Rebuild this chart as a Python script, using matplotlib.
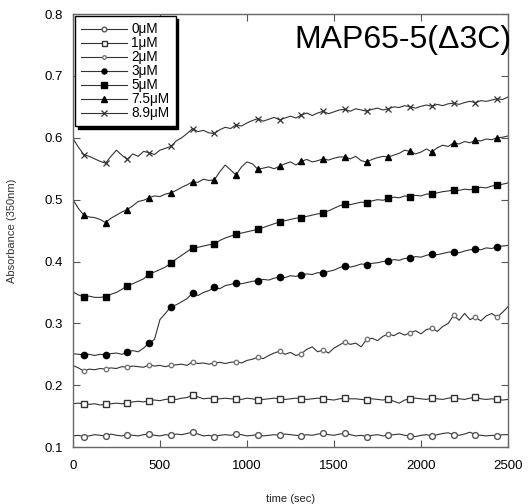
import matplotlib
matplotlib.use("Agg")
import matplotlib.pyplot as plt
import numpy as np

plt.rcParams['font.family'] = ['Liberation Sans', 'DejaVu Sans']

# time axis, one reading every 31.25 s
time = np.arange(81) * 31.25

labels = ['0μM', '1μM', '2μM', '3μM', '5μM', '7.5μM', '8.9μM']

abs_0 = [0.118, 0.119, 0.117, 0.118, 0.120, 0.119, 0.118, 0.121, 0.119, 0.118,
         0.120, 0.119, 0.118, 0.120, 0.121, 0.119, 0.118, 0.120, 0.119, 0.121,
         0.120, 0.122, 0.124, 0.121, 0.118, 0.119, 0.117, 0.119, 0.120, 0.119,
         0.121, 0.120, 0.118, 0.119, 0.120, 0.118, 0.119, 0.120, 0.119, 0.121,
         0.120, 0.119, 0.118, 0.120, 0.119, 0.121, 0.122, 0.120, 0.119, 0.121,
         0.122, 0.120, 0.118, 0.119, 0.117, 0.119, 0.120, 0.118, 0.119, 0.120,
         0.121, 0.119, 0.118, 0.117, 0.119, 0.120, 0.118, 0.120, 0.122, 0.123,
         0.120, 0.119, 0.121, 0.124, 0.120, 0.119, 0.118, 0.119, 0.118, 0.120,
         0.120]

abs_1 = [0.170, 0.171, 0.170, 0.169, 0.170, 0.168, 0.169, 0.170, 0.171, 0.170,
         0.171, 0.173, 0.174, 0.173, 0.175, 0.176, 0.175, 0.177, 0.178, 0.177,
         0.179, 0.180, 0.184, 0.181, 0.178, 0.179, 0.177, 0.178, 0.179, 0.178,
         0.178, 0.177, 0.179, 0.178, 0.176, 0.177, 0.178, 0.179, 0.178, 0.177,
         0.178, 0.179, 0.178, 0.177, 0.178, 0.179, 0.178, 0.177, 0.176, 0.178,
         0.179, 0.178, 0.178, 0.177, 0.176, 0.178, 0.177, 0.176, 0.178, 0.174,
         0.171, 0.176, 0.178, 0.179, 0.178, 0.177, 0.179, 0.178, 0.177, 0.179,
         0.180, 0.178, 0.177, 0.179, 0.181, 0.178, 0.177, 0.178, 0.177, 0.176,
         0.177]

abs_2 = [0.232, 0.228, 0.223, 0.226, 0.225, 0.227, 0.226, 0.228, 0.227, 0.230,
         0.229, 0.231, 0.230, 0.229, 0.233, 0.231, 0.232, 0.230, 0.232, 0.233,
         0.234, 0.232, 0.238, 0.235, 0.236, 0.234, 0.236, 0.237, 0.235, 0.237,
         0.238, 0.236, 0.240, 0.242, 0.245, 0.243, 0.248, 0.252, 0.255, 0.250,
         0.253, 0.248, 0.251, 0.258, 0.262, 0.254, 0.257, 0.252, 0.260, 0.265,
         0.270, 0.266, 0.268, 0.262, 0.274, 0.276, 0.272, 0.279, 0.283, 0.280,
         0.285, 0.281, 0.285, 0.288, 0.283, 0.290, 0.292, 0.287, 0.295, 0.300,
         0.313, 0.305, 0.316, 0.306, 0.310, 0.304, 0.312, 0.316, 0.310, 0.318,
         0.327]

abs_3 = [0.251, 0.250, 0.249, 0.250, 0.248, 0.250, 0.249, 0.251, 0.252, 0.250,
         0.253, 0.256, 0.254, 0.260, 0.268, 0.274, 0.306, 0.316, 0.327, 0.330,
         0.335, 0.340, 0.349, 0.345, 0.350, 0.353, 0.358, 0.356, 0.361, 0.363,
         0.365, 0.364, 0.366, 0.368, 0.369, 0.371, 0.370, 0.373, 0.375, 0.374,
         0.377, 0.376, 0.378, 0.380, 0.379, 0.382, 0.381, 0.384, 0.386, 0.390,
         0.393, 0.391, 0.393, 0.396, 0.395, 0.397, 0.398, 0.400, 0.401, 0.403,
         0.402, 0.405, 0.405, 0.408, 0.407, 0.410, 0.412, 0.411, 0.413, 0.415,
         0.416, 0.414, 0.417, 0.419, 0.420, 0.419, 0.422, 0.421, 0.424, 0.425,
         0.426]

abs_5 = [0.351, 0.346, 0.343, 0.344, 0.342, 0.342, 0.343, 0.347, 0.350, 0.355,
         0.361, 0.364, 0.368, 0.372, 0.380, 0.383, 0.387, 0.391, 0.397, 0.404,
         0.410, 0.416, 0.422, 0.423, 0.425, 0.427, 0.428, 0.434, 0.438, 0.441,
         0.444, 0.446, 0.448, 0.450, 0.452, 0.455, 0.458, 0.461, 0.464, 0.466,
         0.468, 0.470, 0.471, 0.473, 0.475, 0.477, 0.478, 0.482, 0.486, 0.490,
         0.493, 0.492, 0.494, 0.496, 0.495, 0.498, 0.500, 0.499, 0.502, 0.504,
         0.503, 0.506, 0.505, 0.507, 0.506, 0.509, 0.509, 0.511, 0.513, 0.514,
         0.516, 0.515, 0.517, 0.516, 0.518, 0.520, 0.519, 0.522, 0.524, 0.525,
         0.527]

abs_75 = [0.500, 0.486, 0.475, 0.472, 0.471, 0.468, 0.463, 0.470, 0.475, 0.480,
          0.484, 0.490, 0.497, 0.499, 0.503, 0.506, 0.505, 0.509, 0.511, 0.515,
          0.520, 0.524, 0.529, 0.528, 0.533, 0.531, 0.532, 0.545, 0.556, 0.548,
          0.540, 0.553, 0.561, 0.558, 0.549, 0.551, 0.553, 0.550, 0.554, 0.558,
          0.561, 0.556, 0.562, 0.565, 0.561, 0.563, 0.566, 0.564, 0.567, 0.569,
          0.569, 0.566, 0.570, 0.563, 0.561, 0.565, 0.568, 0.570, 0.569, 0.572,
          0.575, 0.580, 0.578, 0.574, 0.577, 0.582, 0.577, 0.584, 0.588, 0.586,
          0.592, 0.590, 0.594, 0.592, 0.596, 0.595, 0.598, 0.597, 0.600, 0.601,
          0.603]

abs_89 = [0.599, 0.585, 0.573, 0.570, 0.566, 0.562, 0.559, 0.570, 0.580, 0.572,
          0.565, 0.574, 0.570, 0.578, 0.576, 0.573, 0.580, 0.583, 0.586, 0.595,
          0.600, 0.607, 0.615, 0.610, 0.612, 0.608, 0.607, 0.613, 0.617, 0.615,
          0.621, 0.619, 0.624, 0.628, 0.631, 0.627, 0.630, 0.633, 0.629, 0.632,
          0.635, 0.632, 0.637, 0.640, 0.636, 0.640, 0.643, 0.639, 0.642, 0.645,
          0.646, 0.643, 0.647, 0.645, 0.643, 0.646, 0.648, 0.645, 0.647, 0.650,
          0.649, 0.652, 0.650, 0.648, 0.651, 0.653, 0.651, 0.654, 0.652, 0.655,
          0.656, 0.654, 0.657, 0.659, 0.657, 0.660, 0.659, 0.661, 0.663, 0.662,
          0.666]

series = [abs_0, abs_1, abs_2, abs_3, abs_5, abs_75, abs_89]
styles = [
    dict(marker='o', ms=4.2, mfc='white', mec='#555555'),
    dict(marker='s', ms=4.5, mfc='white', mec='#333333'),
    dict(marker='o', ms=3.2, mfc='white', mec='#777777'),
    dict(marker='o', ms=4.5, mfc='black', mec='black'),
    dict(marker='s', ms=4.8, mfc='black', mec='black'),
    dict(marker='^', ms=5, mfc='black', mec='black'),
    dict(marker='x', ms=5, mfc='none', mec='#333333', mew=0.9),
]

fig = plt.figure(figsize=(5.32, 5.04), dpi=100)
ax = fig.add_axes([0.137, 0.113, 0.818, 0.859])

for vals, lab, st in zip(series, labels, styles):
    ax.plot(time, vals, color='#333333', lw=0.8, markevery=(2, 4), label=lab, **st)

ax.set_xlim(0, 2500)
ax.set_ylim(0.1, 0.8)
ax.set_xticks([0, 500, 1000, 1500, 2000, 2500])
ax.set_yticks([0.1, 0.2, 0.3, 0.4, 0.5, 0.6, 0.7, 0.8])
ax.tick_params(direction='in', top=True, right=True, length=5, width=0.8,
               labelsize=9.5, color='#555555')
ax.tick_params(axis='x', pad=9)
ax.tick_params(axis='y', pad=7)
for sp in ax.spines.values():
    sp.set_color('#666666')
    sp.set_linewidth(1.0)

ax.set_xlabel('time (sec)', fontsize=8, labelpad=16, color='#222222')
ax.set_ylabel('Absorbance (350nm)', fontsize=8, labelpad=20, color='#333333')

ax.text(1.009, 0.921, 'MAP65-5(Δ3C)', transform=ax.transAxes, ha='right',
        va='baseline', fontsize=23, color='black')

leg = ax.legend(loc='upper left', fontsize=9.8, handlelength=3.4, fancybox=False,
                edgecolor='black', framealpha=1, borderaxespad=0.15,
                labelspacing=0.0, borderpad=0.45, handletextpad=0.3,
                markerscale=0.8, shadow={'color': 'black', 'alpha': 1})
leg.get_frame().set_linewidth(1.0)

fig.savefig('out.png', dpi=100)
